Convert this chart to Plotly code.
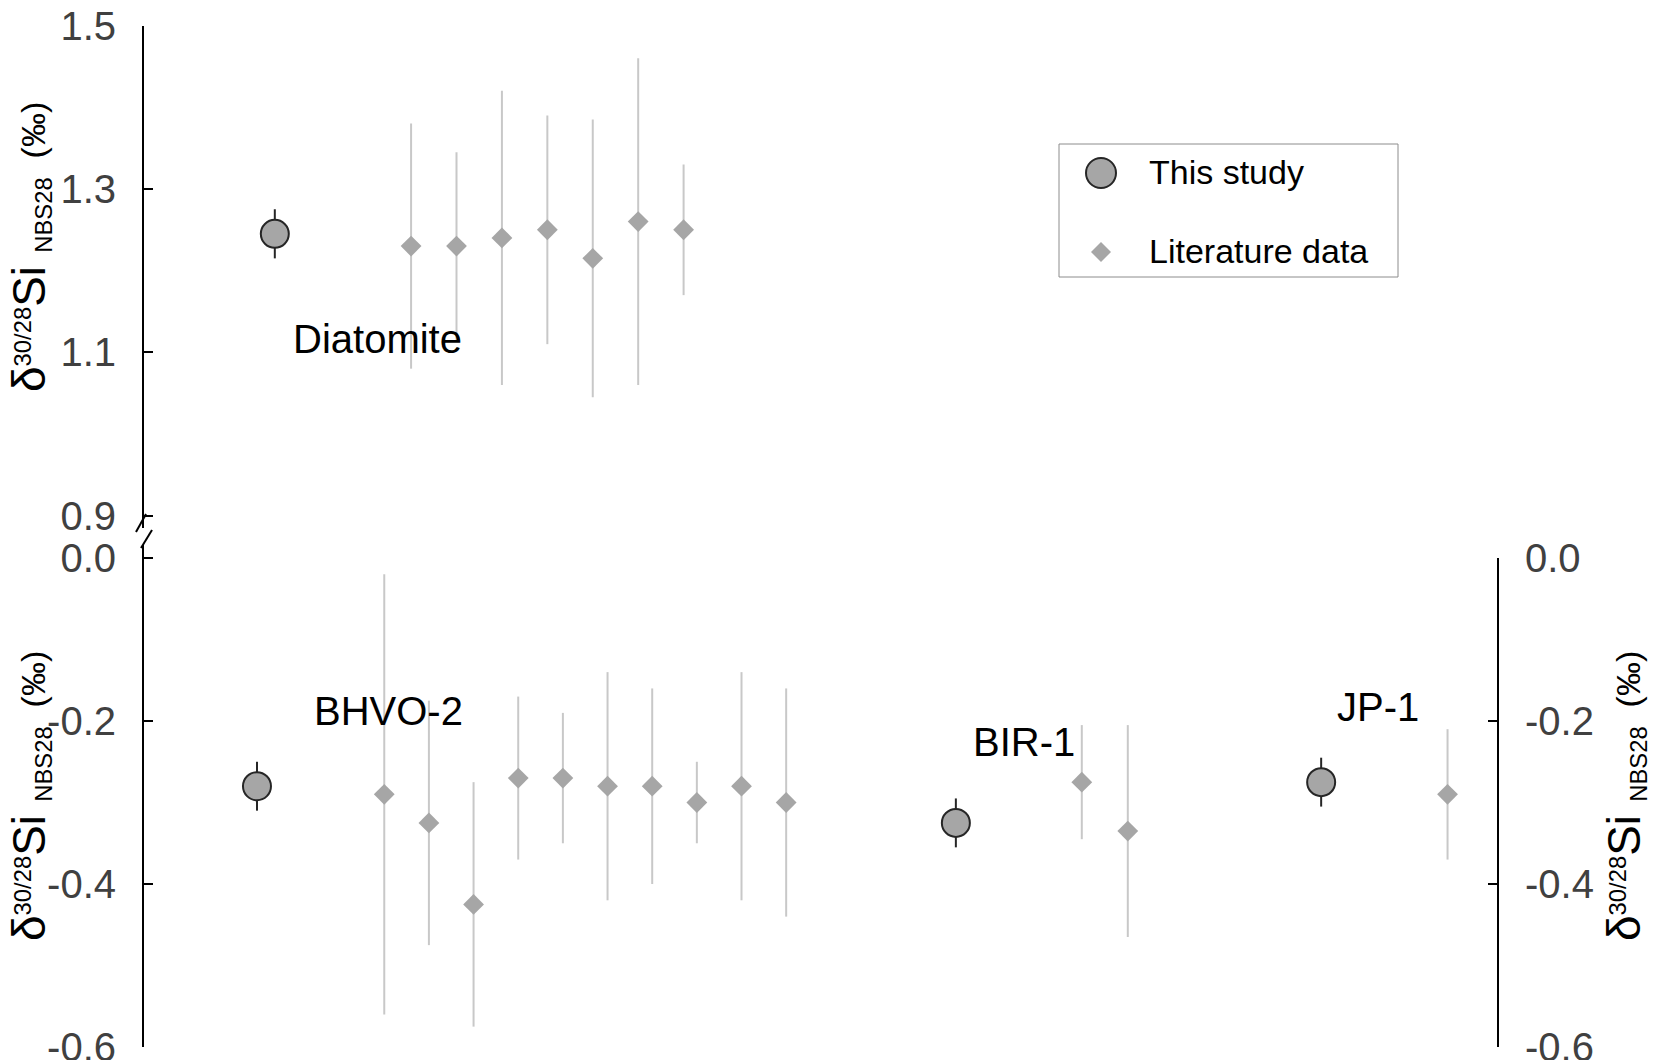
import plotly.graph_objects as go

W, H = 1654, 1060

# --- data -------------------------------------------------------------------
# top panel: Diatomite
diat_study_pos = [0]
diat_study = [1.245]
diat_study_err = [0.03]
diat_lit_pos = [3, 4, 5, 6, 7, 8, 9]
diat_lit = [1.23, 1.23, 1.24, 1.25, 1.215, 1.26, 1.25]
diat_lit_err = [0.15, 0.115, 0.18, 0.14, 0.17, 0.20, 0.08]

# bottom panel: BHVO-2, BIR-1, JP-1
study_names = ["BHVO-2", "BIR-1", "JP-1"]
study_pos = [0, 15.65, 23.83]
study_vals = [-0.28, -0.325, -0.275]
study_err = [0.03, 0.03, 0.03]

lit_pos = [2.85, 3.85, 4.85, 5.85, 6.85, 7.85, 8.85, 9.85, 10.85, 11.85,
           18.47, 19.5,
           26.66]
lit_vals = [-0.29, -0.325, -0.425, -0.27, -0.27, -0.28, -0.28, -0.30, -0.28, -0.30,
            -0.275, -0.335,
            -0.29]
lit_err = [0.27, 0.15, 0.15, 0.10, 0.08, 0.14, 0.12, 0.05, 0.14, 0.14,
           0.07, 0.13,
           0.08]

top_ticks = [0.9, 1.1, 1.3, 1.5]
top_ticktext = ["0.9", "1.1", "1.3", "1.5"]
bot_ticks = [-0.6, -0.4, -0.2, 0.0]
bot_ticktext = ["-0.6", "-0.4", "-0.2", "0.0"]

# --- style ------------------------------------------------------------------
FONT = "Liberation Sans, Arial, sans-serif"
DARK = "#262626"
FILL = "#a6a6a6"
ERR_LIGHT = "#c8c8c8"
TICKCOL = "#404040"


def px(x):
    return x / W


def py(y):
    return 1 - y / H


X_DOMAIN = [px(144), px(1498)]

fig = go.Figure()

study_marker = dict(symbol="circle", size=28, color=FILL, line=dict(color=DARK, width=2))
lit_marker = dict(symbol="diamond", size=16, color=FILL, line=dict(width=0))

# top panel
fig.add_trace(go.Scatter(
    x=diat_study_pos, y=diat_study, mode="markers", xaxis="x2", yaxis="y2",
    marker=study_marker,
    error_y=dict(type="data", array=diat_study_err, color=DARK, thickness=2, width=0),
    name="This study", showlegend=False))
fig.add_trace(go.Scatter(
    x=diat_lit_pos, y=diat_lit, mode="markers", xaxis="x2", yaxis="y2",
    marker=lit_marker,
    error_y=dict(type="data", array=diat_lit_err, color=ERR_LIGHT, thickness=2, width=0),
    name="Literature data", showlegend=False))

# bottom panel (lit first so circles sit on top)
fig.add_trace(go.Scatter(
    x=lit_pos, y=lit_vals, mode="markers", xaxis="x", yaxis="y",
    marker=lit_marker,
    error_y=dict(type="data", array=lit_err, color=ERR_LIGHT, thickness=2, width=0),
    name="Literature data", showlegend=False))
fig.add_trace(go.Scatter(
    x=study_pos, y=study_vals, mode="markers", xaxis="x", yaxis="y",
    marker=study_marker,
    error_y=dict(type="data", array=study_err, color=DARK, thickness=2, width=0),
    name="This study", showlegend=False))

# empty trace so the right-hand axis gets drawn
fig.add_trace(go.Scatter(x=[None], y=[None], xaxis="x", yaxis="y3",
                         showlegend=False, hoverinfo="skip"))

yax_common = dict(
    showgrid=False, zeroline=False, showline=True, linecolor="black", linewidth=2,
    ticks="inside", ticklen=9, tickwidth=2, tickcolor="black",
    tickfont=dict(family=FONT, size=40, color=TICKCOL),
    ticklabelstandoff=18, ticklabeloverflow="allow", automargin=False,
)

fig.update_layout(
    width=W, height=H, autosize=False,
    margin=dict(l=0, r=0, t=0, b=0, pad=0),
    paper_bgcolor="white", plot_bgcolor="rgba(0,0,0,0)",
    showlegend=False,
    xaxis=dict(domain=X_DOMAIN, range=[-2.53, 27.79], visible=False, anchor="y",
               automargin=False),
    xaxis2=dict(domain=X_DOMAIN, range=[-2.88, 26.93], visible=False, anchor="y2",
                automargin=False),
    yaxis=dict(domain=[py(1047), py(545)], range=[-0.6, 0.016],
               tickvals=bot_ticks, ticktext=bot_ticktext, anchor="x", **yax_common),
    yaxis2=dict(domain=[py(528), py(25.5)], range=[0.885, 1.5],
                tickvals=top_ticks, ticktext=top_ticktext, anchor="x2", **yax_common),
    yaxis3=dict(domain=[py(1047), py(558)], range=[-0.6, 0.0],
                tickvals=bot_ticks, ticktext=bot_ticktext,
                anchor="free", position=X_DOMAIN[1], side="right", **yax_common),
)

# axis titles
title_html = ('<span style="font-size:46px">δ</span><sup>30/28</sup>'
              '<span style="font-size:46px">Si</span><sub>  NBS28</sub>  (‰)')
for xc, yc in [(30, 247), (30, 796), (1625, 796)]:
    fig.add_annotation(x=px(xc), y=py(yc), xref="paper", yref="paper",
                       text=title_html, textangle=-90, showarrow=False,
                       xanchor="center", yanchor="middle",
                       font=dict(family=FONT, size=34, color="black"))

# sample labels
labels = ["Diatomite"] + study_names
label_xy = [(377, 339), (388, 711), (1024, 742), (1378, 707)]
for lab, (xc, yc) in zip(labels, label_xy):
    fig.add_annotation(x=px(xc), y=py(yc), xref="paper", yref="paper",
                       text=lab, showarrow=False, xanchor="center", yanchor="middle",
                       font=dict(family=FONT, size=40, color="black"))

# axis break marks
for (x0, y0, x1, y1) in [(136, 532, 146, 514), (141, 548, 152, 530)]:
    fig.add_shape(type="line", xref="paper", yref="paper",
                  x0=px(x0), y0=py(y0), x1=px(x1), y1=py(y1),
                  line=dict(color="black", width=2))

# legend (drawn by hand so the symbols can be full size)
fig.add_shape(type="rect", xref="paper", yref="paper",
              x0=px(1059), x1=px(1398), y0=py(277), y1=py(144),
              line=dict(color="#8c8c8c", width=1), fillcolor="white")
fig.add_shape(type="circle", xref="paper", yref="paper",
              x0=px(1086), x1=px(1116), y0=py(188), y1=py(158),
              line=dict(color=DARK, width=2), fillcolor=FILL)
cx, cy, r = 1101, 252, 10
path = "M {} {} L {} {} L {} {} L {} {} Z".format(
    px(cx - r), py(cy), px(cx), py(cy - r), px(cx + r), py(cy), px(cx), py(cy + r))
fig.add_shape(type="path", xref="paper", yref="paper", path=path,
              line=dict(width=0), fillcolor=FILL)
for txt, yc in [("This study", 172), ("Literature data", 251)]:
    fig.add_annotation(x=px(1147), y=py(yc), xref="paper", yref="paper",
                       text=txt, showarrow=False, xanchor="left", yanchor="middle",
                       font=dict(family=FONT, size=34, color="black"))

# page body has an 8px default margin; remove it so the figure sits at 0,0
fig.write_html("out.html",
               config={"displayModeBar": False},
               post_script="document.body.style.margin='0';"
                           "document.body.style.overflow='hidden';")
